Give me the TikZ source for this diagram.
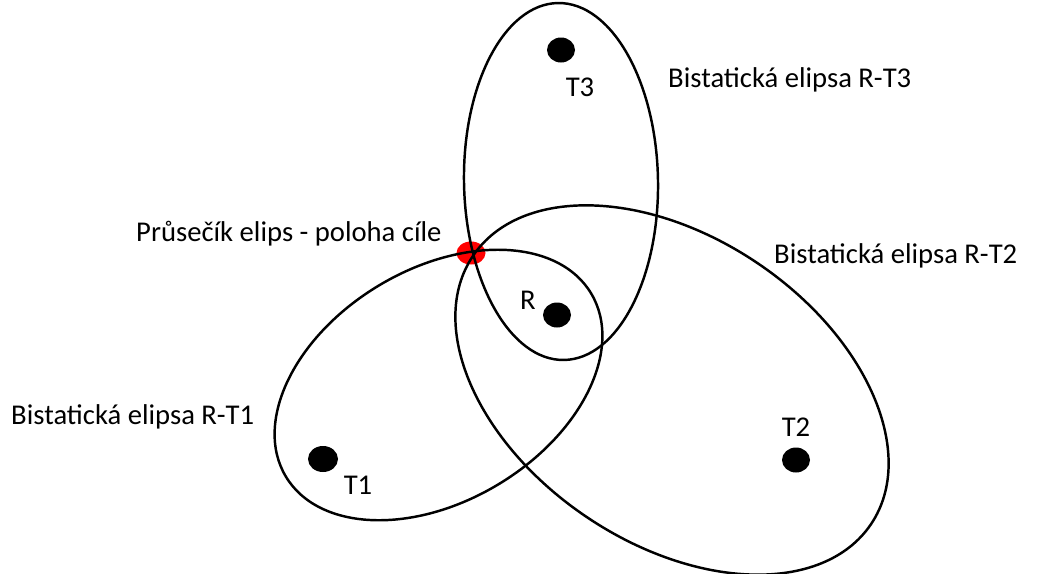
\documentclass[tikz,border=0pt]{standalone}
\usepackage{fontspec}
\setmainfont{Carlito}
\usetikzlibrary{shapes.geometric}

\tikzset{
  dot/.style={ellipse, fill=black, inner sep=0pt, minimum width=5.6mm, minimum height=5mm},
  target/.style={ellipse, fill=red, inner sep=0pt, minimum width=5.8mm, minimum height=4.6mm},
  lbl/.style={inner sep=0pt, font=\fontsize{16.3}{19}\selectfont},
}

\begin{document}
\begin{tikzpicture}[x=0.2mm, y=0.2mm, line width=1.4pt]
    \useasboundingbox (0,0) rectangle (1043,573);
    % target point under the curves
    \node[target] (cil) at (471,320) {};
    % the three ellipses
    \draw[rotate around={1:(561,391.5)}] (561,391.5) ellipse [x radius=97, y radius=178.5];
    \draw[rotate around={-34:(672,183)}] (672,183) ellipse [x radius=240, y radius=153];
    \draw[rotate around={31:(438.5,188)}] (438.5,188) ellipse [x radius=178, y radius=116];
    % receiver and transmitters
    \node[dot] (R) at (557,258) {};
    \node[dot, minimum width=6mm, minimum height=5.2mm] (T1) at (323,114) {};
    \node[dot] (T2) at (796,113) {};
    \node[dot] (T3) at (561,523) {};
    \node[lbl] (labR) at (528,273) {R};
    \node[lbl] (labT1) at (358,88) {T1};
    \node[lbl] (labT2) at (796,146) {T2};
    \node[lbl] (labT3) at (580,486) {T3};
    % descriptions
    \node[lbl, anchor=base west] (popCil) at (135,332) {Průsečík elips - poloha cíle};
    \node[lbl, anchor=base west] (popT3) at (667,486) {Bistatická elipsa R-T3};
    \node[lbl, anchor=base west] (popT2) at (773,310) {Bistatická elipsa R-T2};
    \node[lbl, anchor=base west] (popT1) at (10,149) {Bistatická elipsa R-T1};
\end{tikzpicture}
\end{document}
